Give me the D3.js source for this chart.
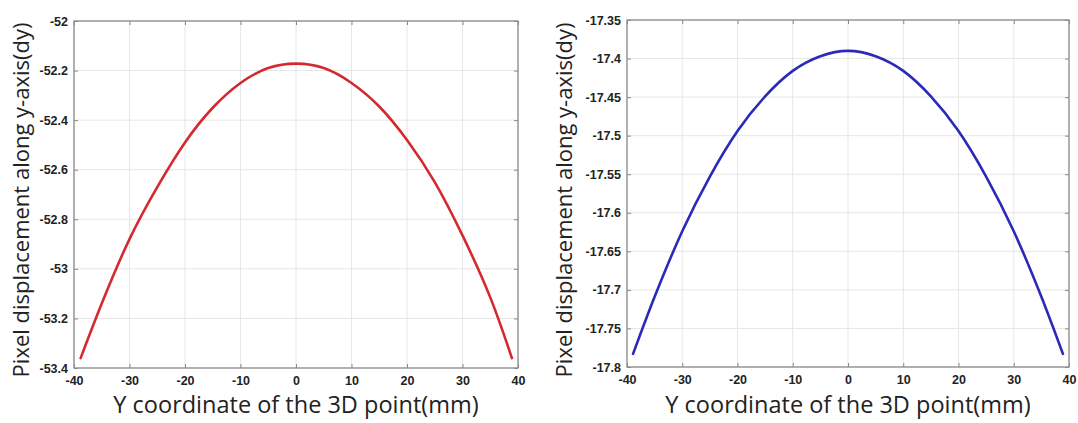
<!DOCTYPE html>
<html>
<head>
<meta charset="utf-8">
<script src="https://cdn.jsdelivr.net/npm/d3@7"></script>
<style>
  html, body { margin: 0; padding: 0; background: #fff; }
  svg { display: block; }
</style>
</head>
<body>
<svg id="chart" width="1078" height="423"></svg>
<script>
// ---------- data ----------
const xTicks = [-40, -30, -20, -10, 0, 10, 20, 30, 40];
const xTickLabels = ["-40", "-30", "-20", "-10", "0", "10", "20", "30", "40"];

const leftYTicks = [-52, -52.2, -52.4, -52.6, -52.8, -53, -53.2, -53.4];
const leftYTickLabels = ["-52", "-52.2", "-52.4", "-52.6", "-52.8", "-53", "-53.2", "-53.4"];

const rightYTicks = [-17.35, -17.4, -17.45, -17.5, -17.55, -17.6, -17.65, -17.7, -17.75, -17.8];
const rightYTickLabels = ["-17.35", "-17.4", "-17.45", "-17.5", "-17.55", "-17.6", "-17.65", "-17.7", "-17.75", "-17.8"];

const leftX  = [-38.8, -35, -30, -25, -20, -15, -10, -5, 0, 5, 10, 15, 20, 25, 30, 35, 38.9];
const leftDy = [-53.36, -53.14, -52.88, -52.67, -52.49, -52.35, -52.25, -52.19, -52.172, -52.19, -52.25, -52.345, -52.48, -52.65, -52.865, -53.115, -53.36];

const rightX  = [-38.9, -35, -30, -25, -20, -15, -10, -5, 0, 5, 10, 15, 20, 25, 30, 35, 38.9];
const rightDy = [-17.783, -17.709, -17.624, -17.553, -17.494, -17.449, -17.416, -17.397, -17.390, -17.397, -17.416, -17.449, -17.494, -17.553, -17.624, -17.709, -17.783];

const xTitle = "Y coordinate of the 3D point(mm)";
const yTitle = "Pixel displacement along y-axis(dy)";

// ---------- drawing ----------
const svg = d3.select("#chart");

function panel(cfg) {
  const g = svg.append("g");
  const x = d3.scaleLinear().domain([-40, 40]).range([cfg.left, cfg.right]);
  const y = d3.scaleLinear().domain(cfg.yDomain).range([cfg.bottom, cfg.top]);

  // grid
  g.append("g").selectAll("line").data(xTicks).join("line")
    .attr("x1", d => x(d)).attr("x2", d => x(d))
    .attr("y1", cfg.top).attr("y2", cfg.bottom)
    .attr("stroke", "#e6e6e6").attr("stroke-width", 1);
  g.append("g").selectAll("line").data(cfg.yTicks).join("line")
    .attr("y1", d => y(d)).attr("y2", d => y(d))
    .attr("x1", cfg.left).attr("x2", cfg.right)
    .attr("stroke", "#e6e6e6").attr("stroke-width", 1);

  const tickFont = g => g.selectAll("text")
      .attr("font-family", "Liberation Sans, Arial, sans-serif")
      .attr("font-weight", "bold")
      .attr("font-size", "12.5px")
      .attr("fill", "#222");
  const clean = g => { g.select(".domain").remove(); g.selectAll("line").attr("stroke", "#888"); };

  g.append("g").attr("transform", `translate(0,${cfg.bottom})`)
    .call(d3.axisBottom(x).tickValues(xTicks).tickFormat((d, i) => xTickLabels[i]).tickSizeInner(-4).tickSizeOuter(0).tickPadding(8))
    .call(clean).call(tickFont);
  g.append("g").attr("transform", `translate(0,${cfg.top})`)
    .call(d3.axisTop(x).tickValues(xTicks).tickFormat("").tickSizeInner(-4).tickSizeOuter(0))
    .call(clean);
  g.append("g").attr("transform", `translate(${cfg.left},0)`)
    .call(d3.axisLeft(y).tickValues(cfg.yTicks).tickFormat((d, i) => cfg.yLabels[i]).tickSizeInner(-4).tickSizeOuter(0).tickPadding(6))
    .call(clean).call(tickFont);
  g.append("g").attr("transform", `translate(${cfg.right},0)`)
    .call(d3.axisRight(y).tickValues(cfg.yTicks).tickFormat("").tickSizeInner(-4).tickSizeOuter(0))
    .call(clean);

  g.append("rect")
    .attr("x", cfg.left).attr("y", cfg.top)
    .attr("width", cfg.right - cfg.left).attr("height", cfg.bottom - cfg.top)
    .attr("fill", "none").attr("stroke", "#8c8c8c").attr("stroke-width", 1.3);

  const pts = cfg.xs.map((d, i) => [d, cfg.ys[i]]);
  g.append("path")
    .datum(pts)
    .attr("fill", "none")
    .attr("stroke", cfg.color)
    .attr("stroke-width", 2.6)
    .attr("stroke-linecap", "round")
    .attr("d", d3.line().x(d => x(d[0])).y(d => y(d[1])).curve(d3.curveNatural));

  g.append("text")
    .attr("x", (cfg.left + cfg.right) / 2).attr("y", 413)
    .attr("text-anchor", "middle")
    .attr("font-family", "Open Sans, sans-serif")
    .attr("font-size", "23.5px")
    .attr("fill", "#222")
    .text(xTitle);
  g.append("text")
    .attr("transform", `translate(${cfg.yTitleX},${cfg.yTitleY}) rotate(-90)`)
    .attr("text-anchor", "middle")
    .attr("font-family", "Open Sans, sans-serif")
    .attr("font-size", "22px")
    .attr("fill", "#222")
    .text(yTitle);
}

panel({
  left: 74, right: 518, top: 21, bottom: 368,
  yDomain: [-53.4, -52], yTicks: leftYTicks, yLabels: leftYTickLabels,
  xs: leftX, ys: leftDy, color: "#d42a2f",
  yTitleX: 29, yTitleY: 200
});
panel({
  left: 627, right: 1069, top: 20, bottom: 367,
  yDomain: [-17.8, -17.35], yTicks: rightYTicks, yLabels: rightYTickLabels,
  xs: rightX, ys: rightDy, color: "#2a2ab8",
  yTitleX: 572, yTitleY: 200
});
</script>
</body>
</html>
